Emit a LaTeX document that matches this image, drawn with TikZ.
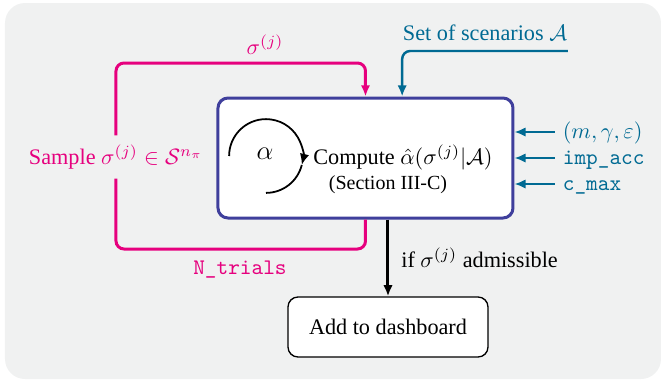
\documentclass[tikz,border=0pt]{standalone}
\usepackage{amsmath, amssymb}
\usepackage{fontspec}
\setmainfont{Liberation Serif}
\usepackage{xcolor}
\usetikzlibrary{arrows.meta}
\definecolor{panel-grey}{HTML}{F0F1F1}
\definecolor{loop-pink}{HTML}{E6007E}
\definecolor{input-blue}{HTML}{006A93}
\definecolor{box-purple}{HTML}{3F3F9C}

\begin{document}
\begin{tikzpicture}[x=0.45pt, y=-0.45pt,
      every node/.style={font=\normalsize},
      >={Latex[length=5pt, width=4.2pt]},
      loopwire/.style={draw=loop-pink, line width=1.35pt, rounded corners=3.6pt},
      inwire/.style={draw=input-blue, line width=1.1pt, rounded corners=3.6pt},
      sidewire/.style={draw=input-blue, line width=0.9pt},
      inlabel/.style={text=input-blue, anchor=west, text height=1.5ex, text depth=.3ex}]

    % panel
    \useasboundingbox (0,0) rectangle (662,381);
    \fill[panel-grey, rounded corners=9pt] (5,3) rectangle (661,379);

    % blocks
    \node[draw=box-purple, line width=1.35pt, fill=white, rounded corners=4.5pt,
          minimum width=132.75pt, minimum height=54pt] (comp) at (365.5,158) {};
    \node[draw=black, line width=0.6pt, fill=white, rounded corners=4.5pt,
          minimum width=90pt, minimum height=27pt] (dash) at (388,327) {Add to dashboard};

    % inside the compute block
    \node[font=\large] (alph) at (265,154) {$\alpha$};
    \draw[line width=0.8pt, ->] (266,156) ++(180:16.6pt) arc[start angle=180, end angle=-14, radius=16.6pt];
    \draw[line width=0.8pt] (266,156) ++(-14:16.6pt) arc[start angle=-14, end angle=-90, radius=16.6pt];
    \node[inner sep=1pt] (calc) at (403,157) {Compute $\hat{\alpha}(\sigma^{(j)}|\mathcal{A})$};
    \node[font=\small, inner sep=1pt] (sect) at (388,185) {(Section III-C)};

    % sampling loop
    \node[text=loop-pink, inner sep=4pt] (smp) at (116,157) {Sample $\sigma^{(j)}\in\mathcal{S}^{n_\pi}$};
    \coordinate (ltop) at (116,63);
    \coordinate (lbot) at (116,249);
    \draw[loopwire] (comp.south) |- (lbot) -- (smp.south);
    \draw[loopwire, ->] (smp.north) -- (ltop) -| (comp.north);
    \node[text=loop-pink] (sig) at (265,45) {$\sigma^{(j)}$};
    \node[text=loop-pink] (ntr) at (240,270) {\texttt{N\_trials}};

    % scenarios from the top
    \coordinate (scen) at (568,51);
    \draw[inwire, ->] (scen) -| ([xshift=16.5pt]comp.north);
    \node[text=input-blue] (scenlbl) at (485,33) {Set of scenarios $\mathcal{A}$};

    % side inputs
    \node[inlabel] (par) at (555,132) {$(m,\gamma,\varepsilon)$};
    \node[inlabel] (imp) at (555,158) {\texttt{imp\_acc}};
    \node[inlabel] (cmx) at (555,184) {\texttt{c\_max}};
    \draw[sidewire, ->] (par.west) -- (par.west -| comp.east);
    \draw[sidewire, ->] (imp.west) -- (imp.west -| comp.east);
    \draw[sidewire, ->] (cmx.west) -- (cmx.west -| comp.east);

    % admissible output
    \draw[line width=1.35pt, ->] (dash.north |- comp.south) -- (dash.north)
        node[midway, right, xshift=2pt] {if $\sigma^{(j)}$ admissible};
  \end{tikzpicture}
\end{document}
